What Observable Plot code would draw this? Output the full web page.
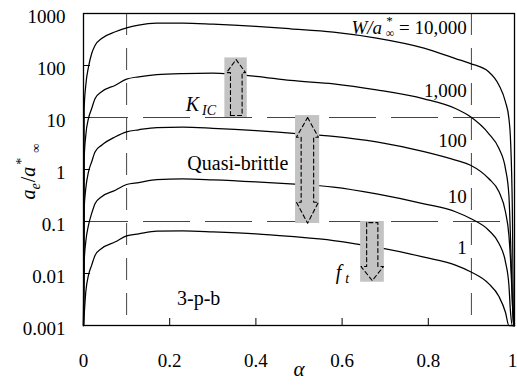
<!DOCTYPE html>
<html><head><meta charset="utf-8">
<script src="https://cdn.jsdelivr.net/npm/d3@7"></script>
<script src="https://cdn.jsdelivr.net/npm/@observablehq/plot@0.6"></script>
<style>
body{margin:0;background:#fff}
svg text, svg tspan { font-family: 'Liberation Serif', serif !important; }
</style>
</head><body>
<script>
// ---- data ----
const alpha = [0, 0.0016, 0.0053, 0.0116, 0.019, 0.027, 0.042, 0.074, 0.1, 0.128, 0.17, 0.23, 0.3, 0.4, 0.48, 0.58, 0.68, 0.79, 0.863, 0.898, 0.94, 0.964, 0.979, 0.987, 0.991, 0.995, 0.998, 1];
const w10000 = [0.001, 14.9, 41.8, 94, 170, 245, 330, 445, 531, 600, 651, 655, 625, 565, 508, 437, 335, 215, 136, 109, 75.6, 41.8, 20, 9.6, 3.4, 0.178, 0.001, 0.001];
const w1000 = [0.001, 1.63, 4.57, 9.6, 14.9, 23.2, 31.2, 41.8, 54.6, 60.7, 67, 70, 71, 62, 51.5, 44.5, 34.1, 22.9, 14.9, 10.3, 4.92, 2.53, 1.04, 0.32, 0.041, 0.003, 0.001, 0.001];
const w100 = [0.001, 0.178, 0.43, 0.90, 1.41, 2.19, 2.93, 4.26, 5.3, 5.8, 6.4, 6.5, 6.2, 5.6, 5.0, 4.35, 3.4, 2.2, 1.51, 1.21, 0.671, 0.372, 0.154, 0.0545, 0.017, 0.003, 0.001, 0.001];
const w10 = [0.001, 0.0168, 0.041, 0.085, 0.143, 0.222, 0.30, 0.40, 0.515, 0.56, 0.64, 0.66, 0.634, 0.58, 0.53, 0.46, 0.34, 0.219, 0.154, 0.114, 0.068, 0.0378, 0.0168, 0.006, 0.0017, 0.001, 0.001, 0.001];
const w1 = [0.001, 0.0016, 0.0044, 0.0093, 0.0145, 0.0225, 0.0303, 0.0407, 0.0531, 0.058, 0.065, 0.066, 0.0634, 0.058, 0.0515, 0.0431, 0.032, 0.0206, 0.0145, 0.0108, 0.0064, 0.0036, 0.0018, 0.001, 0.001, 0.001, 0.001, 0.001];
const seriesNames = ["W=1", "W=10", "W=100", "W=1000", "W=10000"];
const seriesValues = [w1, w10, w100, w1000, w10000];

const curveLabelTexts = ["1", "10", "100", "1,000", "W/a*∞ = 10,000"];
const curveLabelX = [0.889, 0.889, 0.889, 0.889, 0.889];
const curveLabelY = [0.0232, 0.222, 2.65, 24.3, 404];

const yTicks = [0.001, 0.01, 0.1, 1, 10, 100, 1000];
const yTickLabels = ["0.001", "0.01", "0.1", "1", "10", "100", "1000"];
const xTicks = [0, 0.2, 0.4, 0.6, 0.8];
const xTickLabels = ["0", "0.2", "0.4", "0.6", "0.8"];
const xLastTick = [1];
const xLastTickLabel = "1";
const xInnerTicks = [0.2, 0.4, 0.6, 0.8];

const hLines = [10, 0.1];
const vLines = [0.1, 0.9];

const noteTexts = ["K_IC", "Quasi-brittle", "3-p-b", "f_t"];
const noteX = [0.237, 0.241, 0.217, 0.585];
const noteY = [13.6, 1.0, 0.00243, 0.0080];

// grey boxes behind the arrows (data units)
const boxX1 = [0.328, 0.492, 0.643];
const boxX2 = [0.380, 0.548, 0.698];
const boxY1 = [10, 0.0916, 0.0068];
const boxY2 = [140, 10.9, 0.1];

// arrow outlines (data units)
const arrowUp = [[0.341,10.9],[0.341,73],[0.332,73],[0.354,130],[0.376,73],[0.368,73],[0.368,10.9],[0.341,10.9]];
const arrowBoth = [[0.520,10],[0.545,4.18],[0.534,4.18],[0.534,0.235],[0.545,0.235],[0.520,0.0927],[0.494,0.235],[0.505,0.235],[0.505,4.18],[0.494,4.18],[0.520,10]];
const arrowDown = [[0.657,0.095],[0.657,0.0136],[0.644,0.0136],[0.670,0.0073],[0.696,0.0136],[0.683,0.0136],[0.683,0.095],[0.657,0.095]];

// ---- tables ----
const curveRows = seriesNames.flatMap((s, k) => alpha.map((a, i) => ({series: s, alpha: a, value: seriesValues[k][i]})));
const curveLabels = curveLabelTexts.map((t, i) => ({text: t, x: curveLabelX[i], y: curveLabelY[i]}));
const notes = noteTexts.map((t, i) => ({text: t, x: noteX[i], y: noteY[i]}));
const boxes = boxX1.map((x1, i) => ({x1, x2: boxX2[i], y1: boxY1[i], y2: boxY2[i]}));
const arrowRows = [arrowUp, arrowBoth, arrowDown].flatMap((pts, k) => pts.map(([x, y]) => ({id: k, x, y})));

const serif = "Liberation Serif";

const svg = Plot.plot({
  width: 517,
  height: 385,
  marginLeft: 83,
  marginRight: 3,
  marginTop: 13,
  marginBottom: 60,
  x: {domain: [0, 1]},
  y: {type: "log", domain: [0.001, 1000]},
  marks: [
    Plot.ruleY(hLines, {y: d => d, stroke: "#444", strokeWidth: 1, strokeDasharray: "47,15", strokeDashoffset: 2}),
    Plot.ruleX(vLines, {x: d => d, stroke: "#444", strokeWidth: 1, strokeDasharray: "22,13"}),
    Plot.line(curveRows, {x: "alpha", y: "value", z: "series", curve: "monotone-x", stroke: "black", strokeWidth: 1.25}),
    Plot.rect(boxes, {x1: "x1", x2: "x2", y1: "y1", y2: "y2", fill: "#c3c3c3"}),
    Plot.line(arrowRows, {x: "x", y: "y", z: "id", stroke: "black", strokeWidth: 1.1, strokeDasharray: "4,3"}),
    Plot.text(curveLabels, {x: "x", y: "y", text: "text", textAnchor: "end", lineAnchor: "bottom", fontSize: 19, fontFamily: serif}),
    Plot.text(notes, {x: "x", y: "y", text: "text", textAnchor: "start", lineAnchor: "bottom", fontSize: 20, fontFamily: serif}),
    Plot.frame({stroke: "black", strokeWidth: 1.3}),
    Plot.tickY(yTicks, {y: d => d, insetRight: 424, stroke: "black"}),
    Plot.tickX(xInnerTicks, {x: d => d, insetTop: 305, stroke: "black"}),
    Plot.axisY({ticks: yTicks, tickFormat: d => yTickLabels[yTicks.indexOf(d)], tickSize: 0, tickPadding: 18, dy: 3.5, label: null, fontSize: 19, fontFamily: serif}),
    Plot.axisX({ticks: xTicks, tickFormat: d => xTickLabels[xTicks.indexOf(d)], tickSize: 0, tickPadding: 28, label: null, fontSize: 19, fontFamily: serif}),
    Plot.axisX({ticks: xLastTick, tickFormat: () => xLastTickLabel, tickSize: 0, tickPadding: 28, dx: -2, label: null, fontSize: 19, fontFamily: serif}),
    Plot.text(["ae/a*∞"], {frameAnchor: "left", rotate: -90, dx: -55, dy: 30, fontSize: 20, fontFamily: serif}),
    Plot.text(["α"], {frameAnchor: "bottom", dy: 50, fontSize: 21, fontStyle: "italic", fontFamily: serif})
  ]
});

// rich text (sub/superscripts) built as real SVG tspans
const rich = {
  "W/a*∞ = 10,000": [["W/a", {italic: true}], ["*", {size: 13, dx: 4, dy: -9}], ["∞", {size: 12, dx: -7, dy: 12}], [" = 10,000", {dy: -3}]],
  "K_IC": [["K", {italic: true}], ["IC", {italic: true, size: 14, dx: 3, dy: 4}]],
  "f_t": [["f", {italic: true}], ["t", {italic: true, size: 14, dx: 4, dy: 4}]],
  "ae/a*∞": [["a", {italic: true}], ["e", {italic: true, size: 14, dy: 5}], ["/", {dy: -5, dx: 1}], ["a", {italic: true}], ["*", {size: 14, dx: 2, dy: -9}], ["∞", {size: 13, dx: 5, dy: 14}]]
};
const NS = "http://www.w3.org/2000/svg";
svg.setAttribute("font-family", serif);
svg.setAttribute("font-size", 19);
svg.querySelectorAll("text").forEach(t => {
  t.setAttribute("font-family", serif);
  const parts = rich[t.textContent];
  if (!parts) return;
  t.textContent = "";
  for (const [s, o] of parts) {
    const ts = document.createElementNS(NS, "tspan");
    ts.textContent = s;
    if (o.italic) ts.setAttribute("font-style", "italic");
    if (o.size) ts.setAttribute("font-size", o.size);
    if (o.dx) ts.setAttribute("dx", o.dx);
    if (o.dy) ts.setAttribute("dy", o.dy);
    t.appendChild(ts);
  }
});
document.body.appendChild(svg);
</script>
</body></html>
